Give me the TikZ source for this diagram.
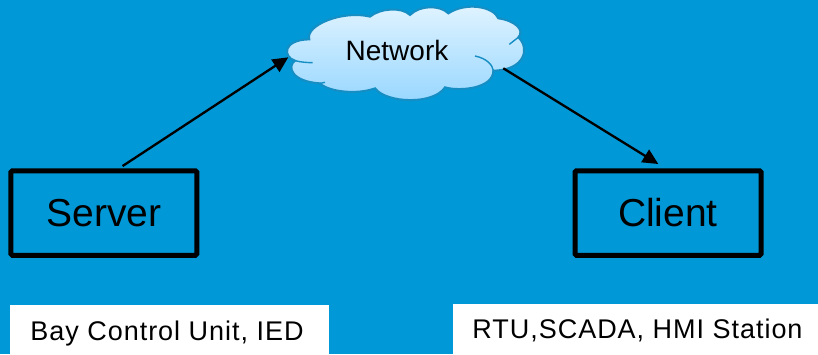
\documentclass[tikz,border=0pt]{standalone}
\usepackage{fontspec}
\setmainfont{Liberation Sans}
\newfontfamily\spacedfont[LetterSpace=3.6]{Liberation Sans}
\usetikzlibrary{arrows.meta}
\definecolor{fondo}{RGB}{0,152,214}
\definecolor{nubeborde}{RGB}{22,142,196}
\definecolor{nubealta}{RGB}{226,244,255}
\definecolor{nubebaja}{RGB}{150,214,255}
\tikzset{
	caja/.style={draw=black,line width=5pt,rounded corners=1.5pt,minimum width=186pt,minimum height=84.5pt,inner sep=0pt,font=\fontsize{39}{39}\selectfont},
	etiqueta/.style={anchor=base,inner sep=0pt,font=\fontsize{27}{27}\spacedfont},
	flecha/.style={line width=2.3pt,-{Triangle[length=15.5pt,width=14.5pt]},shorten <=4pt}
}
\begin{document}
\begin{tikzpicture}[x=1pt,y=-1pt]
		%Fondo
		\useasboundingbox (0,0) rectangle (818,354);
		\fill[fondo] (0,0) rectangle (818,354);

		%La nube
		\begin{scope}[shift={(270,0)},scale=1/3]
		\draw[nubeborde,line width=2pt,top color=nubealta,bottom color=nubebaja]
		(75,182) .. controls (40,172) and (35,120) .. (118,118)
		.. controls (105,75) and (220,30) .. (300,50)
		.. controls (330,25) and (395,20) .. (420,45)
		.. controls (450,15) and (510,15) .. (535,40)
		.. controls (590,5) and (670,20) .. (685,55)
		.. controls (735,62) and (765,90) .. (745,112)
		.. controls (780,145) and (765,210) .. (670,212)
		.. controls (670,265) and (570,275) .. (525,262)
		.. controls (490,315) and (350,310) .. (315,265)
		.. controls (260,285) and (175,275) .. (150,250)
		.. controls (65,245) and (50,200) .. (75,182) -- cycle;
		\draw[nubeborde,line width=1.4pt] (75,182) .. controls (90,186) and (110,188) .. (128,188);
		\draw[nubeborde,line width=1.4pt] (615,168) .. controls (650,175) and (668,195) .. (670,212);
		\draw[nubeborde,line width=1.4pt] (745,112) -- (718,133);
		\draw[nubeborde,line width=1.4pt] (150,250) -- (165,247);
		\end{scope}
		\node[anchor=base,inner sep=0pt,font=\fontsize{28}{28}\selectfont] (network) at (397,60.7) {Network};

		%Cajas
		\node[caja] (server) at (103.8,213) {Server};
		\node[caja] (client) at (668,213) {Client};

		%Etiquetas
		\fill[white] (10,305) rectangle (329,354);
		\fill[white] (453,304) rectangle (818,354);
		\node[etiqueta] (baylabel) at (167,340.7) {Bay Control Unit, IED};
		\node[etiqueta] (rtulabel) at (637.5,338.3) {RTU,SCADA, HMI Station};

		%Flechas
		\coordinate (netin) at (288.3,57.3);
		\coordinate (netout) at (503.3,68.3);
		\coordinate (clientin) at (658.3,164);
		\draw[flecha] (server.71) -- (netin);
		\draw[flecha,shorten <=0pt] (netout) -- (clientin);
\end{tikzpicture}
\end{document}
